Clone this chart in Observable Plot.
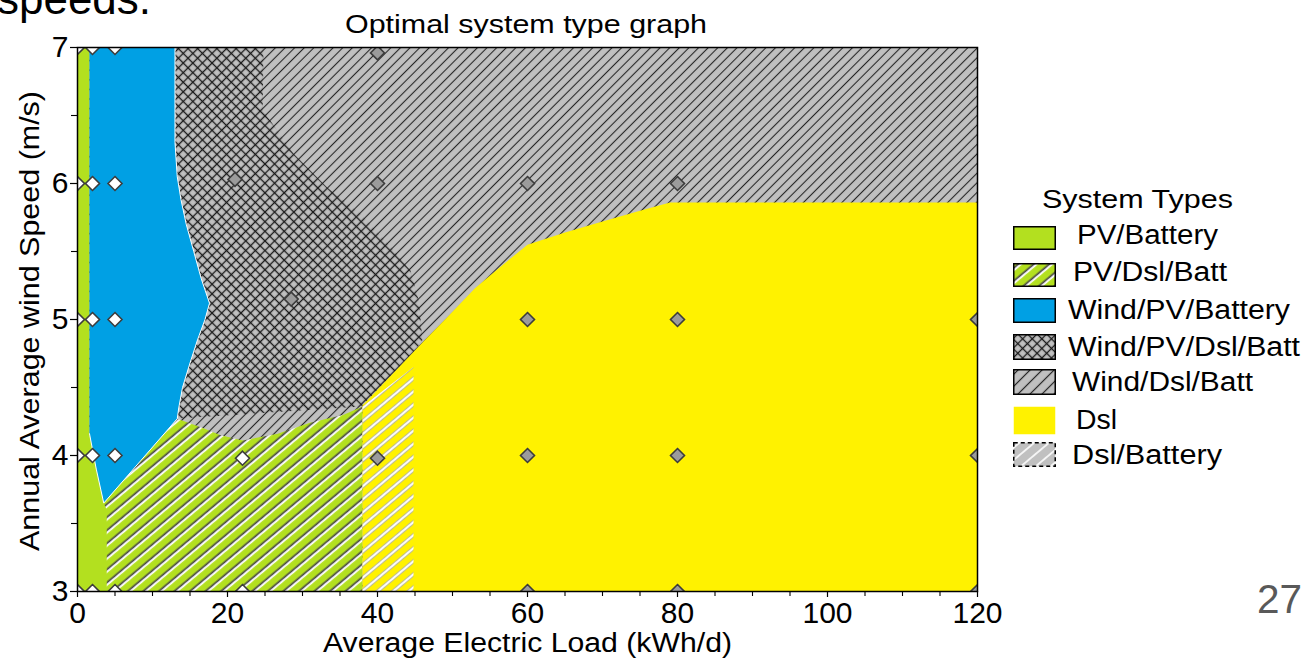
<!DOCTYPE html>
<html>
<head>
<meta charset="utf-8">
<script src="https://cdn.jsdelivr.net/npm/d3@7"></script>
<script src="https://cdn.jsdelivr.net/npm/@observablehq/plot@0.6"></script>
<style>
html, body { margin: 0; padding: 0; background: #fff; }
#root { position: relative; width: 1312px; height: 659px; overflow: hidden; font-family: "Liberation Sans", Arial, sans-serif; color: #000; }
.t { position: absolute; left: 0; top: 0; white-space: nowrap; line-height: 1; transform-origin: 0 0; }
.sw { position: absolute; }
</style>
</head>
<body>
<svg width="0" height="0" style="position:absolute">
  <defs>
    <pattern id="wdb" patternUnits="userSpaceOnUse" width="6.8" height="6.8" patternTransform="rotate(45)">
      <rect width="6.8" height="6.8" fill="#c0c0c0"/>
      <line x1="3.4" y1="-1" x2="3.4" y2="8" stroke="#262626" stroke-width="1.1"/>
    </pattern>
    <pattern id="wpdb" patternUnits="userSpaceOnUse" width="6.8" height="6.8" patternTransform="rotate(45)">
      <rect width="6.8" height="6.8" fill="#c0c0c0"/>
      <line x1="3.4" y1="-1" x2="3.4" y2="8" stroke="#1a1a1a" stroke-width="1.35"/>
      <line x1="-1" y1="3.4" x2="8" y2="3.4" stroke="#1a1a1a" stroke-width="1.35"/>
    </pattern>
    <pattern id="pdb" patternUnits="userSpaceOnUse" width="10" height="10" patternTransform="rotate(50)">
      <rect width="10" height="10" fill="#b3e01f"/>
      <line x1="6" y1="-1" x2="6" y2="12" stroke="#ffffff" stroke-width="2.2"/>
      <line x1="4.3" y1="-1" x2="4.3" y2="12" stroke="#484848" stroke-width="1.7"/>
    </pattern>
    <pattern id="db" patternUnits="userSpaceOnUse" width="10" height="10" patternTransform="rotate(50)">
      <line x1="5" y1="-1" x2="5" y2="12" stroke="#b0b0b0" stroke-width="3.6"/>
      <line x1="5" y1="-1" x2="5" y2="12" stroke="#ffffff" stroke-width="1.9"/>
    </pattern>
    <pattern id="dbL" patternUnits="userSpaceOnUse" width="9.5" height="9.5" patternTransform="rotate(50)">
      <rect width="9.5" height="9.5" fill="#c0c0c0"/>
      <line x1="4.75" y1="-1" x2="4.75" y2="11" stroke="#ffffff" stroke-width="1.6"/>
    </pattern>
    <pattern id="wdbL" patternUnits="userSpaceOnUse" width="8.5" height="8.5" patternTransform="rotate(45)">
      <rect width="8.5" height="8.5" fill="#c0c0c0"/>
      <line x1="4.25" y1="-1" x2="4.25" y2="10" stroke="#262626" stroke-width="1.2"/>
    </pattern>
  </defs>
</svg>
<div id="root"></div>
<script>
// ---------- data ----------
const loadTicks = [0, 20, 40, 60, 80, 100, 120];
const loadMinorTicks = [5, 10, 15, 25, 30, 35, 45, 50, 55, 65, 70, 75, 85, 90, 95, 105, 110, 115];
const windTicks = [3, 4, 5, 6, 7];
const windMinorTicks = [3.5, 4.5, 5.5, 6.5];

const systemTypes = ["PV/Battery", "PV/Dsl/Batt", "Wind/PV/Battery", "Wind/PV/Dsl/Batt", "Wind/Dsl/Batt", "Dsl", "Dsl/Battery"];

// region outlines [load kWh/d, wind m/s]
const regionPVBattery = [[0, 3], [4, 3], [4, 3.65], [3.5, 3.65], [1.6, 4.16], [1.6, 7], [0, 7]];
const regionPVDslBatt = [[3.9, 3], [38, 3], [38, 4.36], [35.5, 4.3], [31, 4.24], [26.7, 4.16], [22, 4.11], [19, 4.15], [16.8, 4.2], [13.3, 4.27], [3.5, 3.65], [3.9, 3.6]];
const regionWindPVBattery = [[1.6, 7], [13.0, 7], [13.0, 6.3], [13.3, 6.05], [13.8, 5.88], [14.5, 5.7], [15.5, 5.5], [16.5, 5.3], [17.6, 5.12], [17.0, 5.0], [16.0, 4.85], [15.0, 4.68], [14.0, 4.5], [13.5, 4.35], [13.3, 4.27], [3.5, 3.65], [2.5, 3.9], [1.6, 4.16]];
const regionWindPVDslBatt = [[13, 7], [24.8, 7], [24.7, 6.54], [28.8, 6.22], [33.3, 5.97], [37.7, 5.78], [41.7, 5.54], [44.4, 5.36], [45.5, 5.14], [46, 4.85], [45, 4.77], [38, 4.36], [13, 4.27]];
const regionDsl = [[38, 3], [120, 3], [120, 5.86], [79, 5.86], [75, 5.8], [70, 5.72], [65, 5.64], [60, 5.55], [56, 5.37], [53, 5.23], [49, 5.0], [46, 4.83], [42, 4.6], [38, 4.37]];
const regionDslBattery = [[38, 3], [44.8, 3], [44.8, 4.65], [38, 4.36]];

// sensitivity sample points
const sampleLoad = [0, 2, 5, 40, 0, 2, 5, 21, 40, 60, 80, 28.5, 0, 2, 5, 60, 80, 120, 0, 2, 5, 22, 40, 60, 80, 120, 0, 2, 5, 22, 60, 80, 120];
const sampleWind = [7, 7, 7, 6.96, 6, 6, 6, 6.03, 6, 6, 6, 5.15, 5, 5, 5, 5, 5, 5, 4, 4, 4, 3.98, 3.98, 4, 4, 4, 3, 3, 3, 3, 3, 3, 3];

// ---------- chart ----------
const GREEN = "#b3e01f", BLUE = "#00a0e4", YELLOW = "#fff200";
const X = d => d[0], Y = d => d[1];
const idx = d3.range(sampleLoad.length);
const isWhite = i => sampleLoad[i] <= 5 || (sampleLoad[i] < 25 && sampleWind[i] <= 4);
const FONT = '"Liberation Sans", Arial, sans-serif';

const chart = Plot.plot({
  width: 1312,
  height: 659,
  marginLeft: 77,
  marginRight: 335,
  marginTop: 47,
  marginBottom: 68,
  x: {domain: [0, 120]},
  y: {domain: [3, 7]},
  style: {fontFamily: FONT, fontSize: "30px", background: "none", color: "#000", overflow: "visible"},
  marks: [
    Plot.frame({fill: "url(#wdb)", stroke: "none"}),
    Plot.line(regionWindPVDslBatt, {x: X, y: Y, fill: "url(#wpdb)", stroke: "none"}),
    Plot.line(regionPVBattery, {x: X, y: Y, fill: GREEN, stroke: "none"}),
    Plot.line(regionPVDslBatt, {x: X, y: Y, fill: "url(#pdb)", stroke: "none"}),
    Plot.line(regionWindPVBattery, {x: X, y: Y, fill: BLUE, stroke: "#ffffff", strokeWidth: 1}),
    Plot.line(regionDsl, {x: X, y: Y, fill: YELLOW, stroke: "none"}),
    Plot.line(regionDslBattery, {x: X, y: Y, fill: "url(#db)", stroke: "none"}),
    Plot.dot(idx.filter(isWhite), {x: i => sampleLoad[i], y: i => sampleWind[i], symbol: "diamond2", r: 6.3, fill: "#ffffff", stroke: "#3c3c3c", strokeWidth: 1.6, clip: true}),
    Plot.dot(idx.filter(i => !isWhite(i)), {x: i => sampleLoad[i], y: i => sampleWind[i], symbol: "diamond2", r: 6.3, fill: "#9b9b9b", stroke: "#3c3c3c", strokeWidth: 1.6, clip: true}),
    Plot.frame({stroke: "#000", strokeWidth: 1.5}),
    Plot.axisX({ticks: loadTicks, tickFormat: "d", tickSize: 6, tickPadding: 4, strokeWidth: 1.2, fontSize: 30, label: null}),
    Plot.axisX(loadMinorTicks, {tickSize: 5, strokeWidth: 1.1, tickFormat: () => "", label: null}),
    Plot.axisY({ticks: windTicks, tickFormat: "d", tickSize: 7, tickPadding: 2, strokeWidth: 1.2, fontSize: 30, label: null}),
    Plot.axisY(windMinorTicks, {tickSize: 6, strokeWidth: 1.1, tickFormat: () => "", label: null})
  ]
});
chart.style.position = "absolute";
chart.style.left = "0px";
chart.style.top = "0px";
const root = document.getElementById("root");
root.appendChild(chart);

// ---------- texts ----------
function addText(str, o) {
  const el = document.createElement("div");
  el.className = "t";
  el.textContent = str;
  el.style.fontSize = o.size + "px";
  if (o.color) el.style.color = o.color;
  root.appendChild(el);
  const w0 = el.getBoundingClientRect().width;
  const w = o.width || w0;
  const s = w / w0;
  const b = 0.8465 * o.size;
  if (o.rotate) {
    el.style.transform = `translate(${o.x}px, ${o.y + w / 2}px) rotate(-90deg) scaleX(${s}) translate(0px, ${-b}px)`;
  } else {
    const left = o.anchor === "middle" ? o.x - w / 2 : o.x;
    el.style.transform = `translate(${left}px, ${o.y}px) scaleX(${s}) translate(0px, ${-b}px)`;
  }
  return el;
}

addText("speeds.", {x: -3, y: 14, size: 44, width: 154});
addText("Optimal system type graph", {x: 526, y: 33, size: 25, width: 362, anchor: "middle"});
addText("Average Electric Load (kWh/d)", {x: 527.5, y: 652.5, size: 27, width: 409, anchor: "middle"});
addText("Annual Average wind Speed (m/s)", {x: 40, y: 321, size: 27, width: 460, rotate: true});
addText("27", {x: 1257, y: 613, size: 40, width: 45, color: "#595959"});

// ---------- legend ----------
addText("System Types", {x: 1042, y: 208, size: 26, width: 191});
const swFills = [GREEN, "url(#pdb)", BLUE, "url(#wpdb)", "url(#wdbL)", YELLOW, "url(#dbL)"];
const swTops = [226, 263, 298, 334, 369, 406, 442];
const swHeights = [24, 24, 25, 26, 26, 29, 25];
const txtLeft = [1077, 1073, 1068, 1068, 1072, 1076, 1072];
const txtBase = [245, 282, 320, 357, 392, 430, 465];
const txtWidth = [141, 154, 222, 232, 181, 41, 150];
systemTypes.forEach((name, i) => {
  const h = swHeights[i];
  const border = i === 5 ? "none" : "#000";
  const dash = i === 6 ? ' stroke-dasharray="4 3"' : "";
  const d = document.createElement("div");
  d.className = "sw";
  d.style.left = "1013px";
  d.style.top = swTops[i] + "px";
  d.innerHTML = `<svg width="43" height="${h}" style="display:block"><rect x="0.75" y="0.75" width="41.5" height="${h - 1.5}" fill="${swFills[i]}" stroke="${border}" stroke-width="1.5"${dash}/></svg>`;
  root.appendChild(d);
  addText(name, {x: txtLeft[i], y: txtBase[i], size: 27, width: txtWidth[i]});
});
</script>
</body>
</html>
